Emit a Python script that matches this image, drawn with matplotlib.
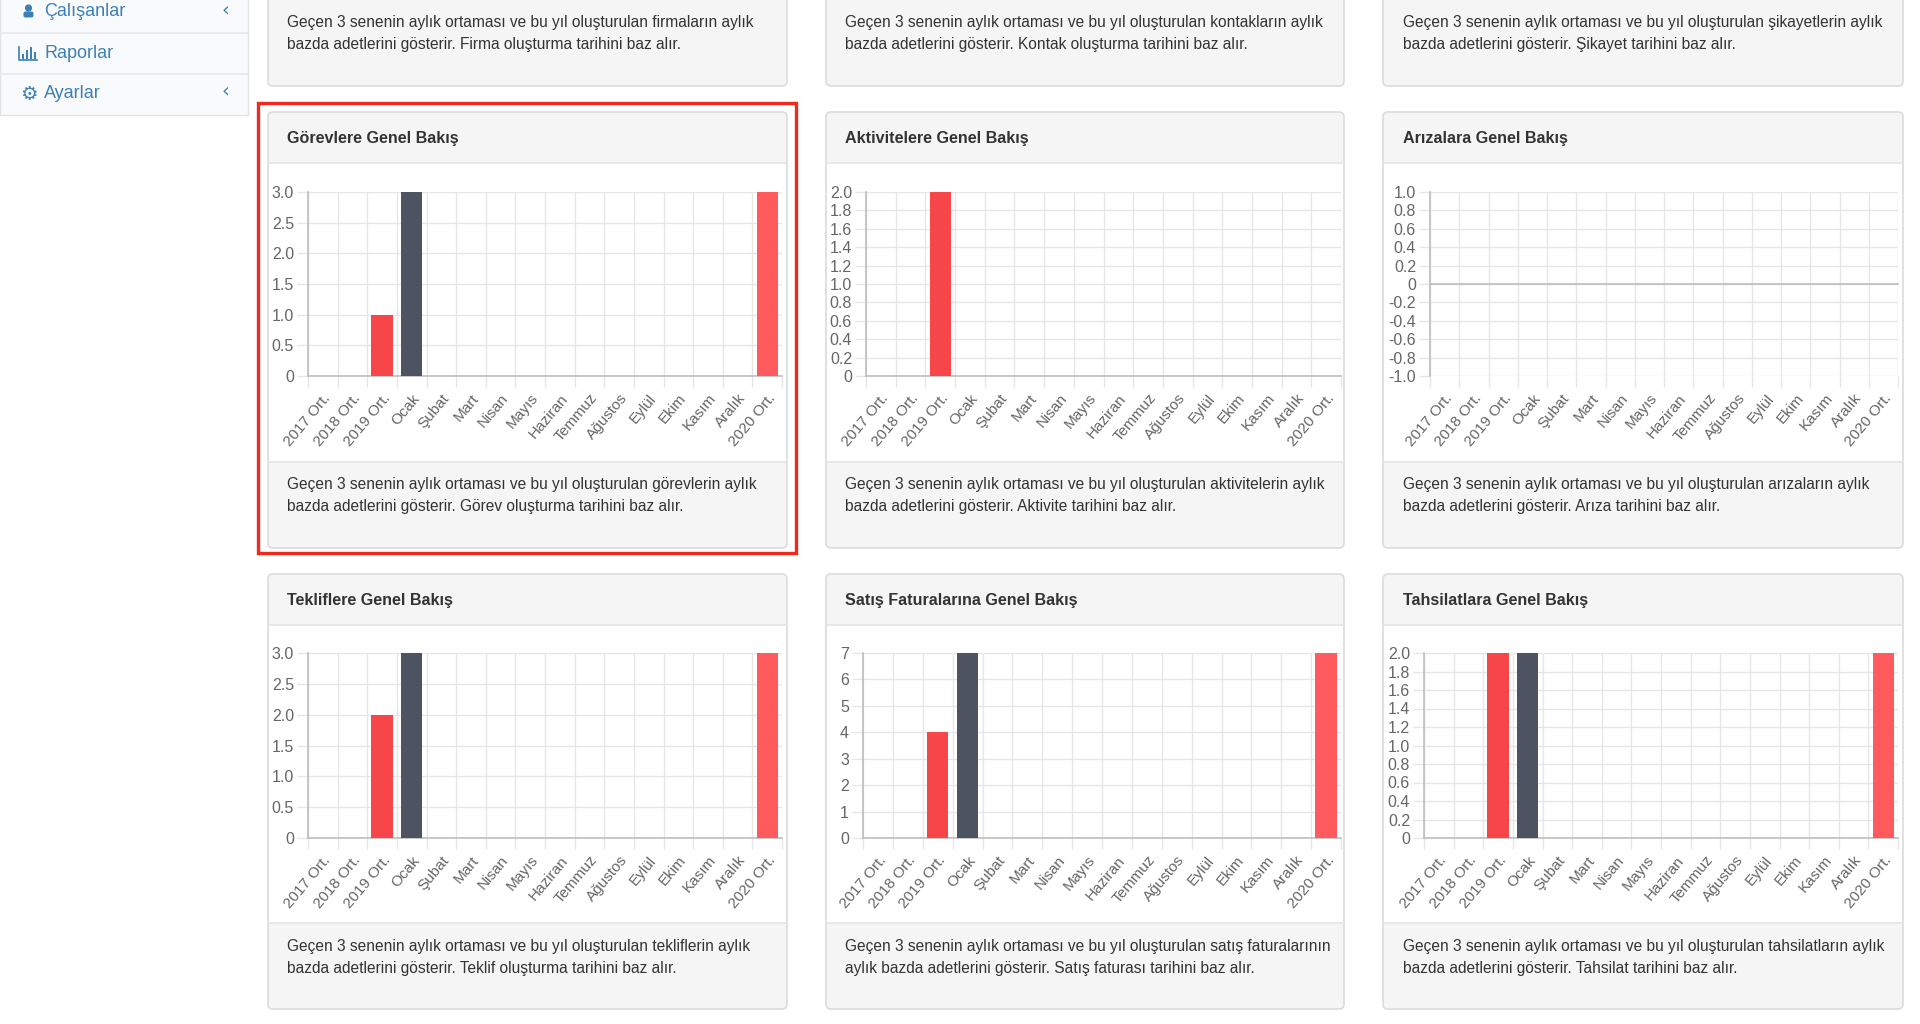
import matplotlib
matplotlib.use('Agg')
import matplotlib.pyplot as plt
from matplotlib.patches import FancyBboxPatch, Rectangle, Circle

plt.rcParams['font.family'] = ['Liberation Sans', 'DejaVu Sans']

W, H = 1920, 1024

# Data
categories = ['2017 Ort.', '2018 Ort.', '2019 Ort.', 'Ocak', 'Şubat', 'Mart', 'Nisan', 'Mayıs',
              'Haziran', 'Temmuz', 'Ağustos', 'Eylül', 'Ekim', 'Kasım', 'Aralık', '2020 Ort.']

gorev_values = [0, 0, 1, 3, 0, 0, 0, 0, 0, 0, 0, 0, 0, 0, 0, 3]
aktivite_values = [0, 0, 2, 0, 0, 0, 0, 0, 0, 0, 0, 0, 0, 0, 0, 0]
ariza_values = [0, 0, 0, 0, 0, 0, 0, 0, 0, 0, 0, 0, 0, 0, 0, 0]
teklif_values = [0, 0, 2, 3, 0, 0, 0, 0, 0, 0, 0, 0, 0, 0, 0, 3]
satis_values = [0, 0, 4, 7, 0, 0, 0, 0, 0, 0, 0, 0, 0, 0, 0, 7]
tahsilat_values = [0, 0, 2, 2, 0, 0, 0, 0, 0, 0, 0, 0, 0, 0, 0, 2]

ticks_half = ['0', '0.5', '1.0', '1.5', '2.0', '2.5', '3.0']
ticks_two = ['0', '0.2', '0.4', '0.6', '0.8', '1.0', '1.2', '1.4', '1.6', '1.8', '2.0']
ticks_neg = ['-1.0', '-0.8', '-0.6', '-0.4', '-0.2', '0', '0.2', '0.4', '0.6', '0.8', '1.0']
ticks_int = ['0', '1', '2', '3', '4', '5', '6', '7']

titles = ['Görevlere Genel Bakış', 'Aktivitelere Genel Bakış', 'Arızalara Genel Bakış',
          'Tekliflere Genel Bakış', 'Satış Faturalarına Genel Bakış', 'Tahsilatlara Genel Bakış']

footers = [
    ['Geçen 3 senenin aylık ortaması ve bu yıl oluşturulan görevlerin aylık',
     'bazda adetlerini gösterir. Görev oluşturma tarihini baz alır.'],
    ['Geçen 3 senenin aylık ortaması ve bu yıl oluşturulan aktivitelerin aylık',
     'bazda adetlerini gösterir. Aktivite tarihini baz alır.'],
    ['Geçen 3 senenin aylık ortaması ve bu yıl oluşturulan arızaların aylık',
     'bazda adetlerini gösterir. Arıza tarihini baz alır.'],
    ['Geçen 3 senenin aylık ortaması ve bu yıl oluşturulan tekliflerin aylık',
     'bazda adetlerini gösterir. Teklif oluşturma tarihini baz alır.'],
    ['Geçen 3 senenin aylık ortaması ve bu yıl oluşturulan satış faturalarının',
     'aylık bazda adetlerini gösterir. Satış faturası tarihini baz alır.'],
    ['Geçen 3 senenin aylık ortaması ve bu yıl oluşturulan tahsilatların aylık',
     'bazda adetlerini gösterir. Tahsilat tarihini baz alır.'],
]

top_footers = [
    ['Geçen 3 senenin aylık ortaması ve bu yıl oluşturulan firmaların aylık',
     'bazda adetlerini gösterir. Firma oluşturma tarihini baz alır.'],
    ['Geçen 3 senenin aylık ortaması ve bu yıl oluşturulan kontakların aylık',
     'bazda adetlerini gösterir. Kontak oluşturma tarihini baz alır.'],
    ['Geçen 3 senenin aylık ortaması ve bu yıl oluşturulan şikayetlerin aylık',
     'bazda adetlerini gösterir. Şikayet tarihini baz alır.'],
]

menu_items = ['Çalışanlar', 'Raporlar', 'Ayarlar']

all_values = [gorev_values, aktivite_values, ariza_values, teklif_values, satis_values, tahsilat_values]
all_ticks = [ticks_half, ticks_two, ticks_neg, ticks_half, ticks_int, ticks_two]

# Colors
bar_colors = ['#F7464A'] * 3 + ['#4D5360'] + ['#4D5360'] * 11 + ['#FF5A5E']
grid_color = '#e6e6e6'
card_bg = '#f5f5f5'
card_edge = '#dcdcdc'
link_color = '#3c80b4'
text_color = '#333333'

# Layout in pixels: card columns, rows, axes frames
card_x = [(268, 787), (826, 1344), (1383, 1903)]
text_x = [287, 845, 1403]
rows = [dict(top=112, head=163, foot=462, bottom=548, title=139, t1=485, t2=506),
        dict(top=574, head=625, foot=923, bottom=1009, title=600, t1=947, t2=968)]
axes_x = [(308, 782), (866, 1341), (1430, 1898), (308, 782), (863, 1341), (1424, 1898)]
axes_y = [(192, 376), (653, 838)]

fig = plt.figure(figsize=(W / 100, H / 100), dpi=100, facecolor='white')

# Background layer in pixel coordinates
bg = fig.add_axes([0, 0, 1, 1], zorder=0)
bg.set_xlim(0, W)
bg.set_ylim(H, 0)
bg.axis('off')


def card_box(x0, x1, y0, y1, color, edge=card_edge):
    box = FancyBboxPatch((x0 + 4, y0 + 4), x1 - x0 - 8, y1 - y0 - 8,
                         boxstyle='round,pad=4,rounding_size=5',
                         facecolor=color, edgecolor=edge, linewidth=1.2)
    bg.add_patch(box)


# Sidebar
bg.add_patch(Rectangle((0, -2), 248, 117, facecolor='#f9fafc', edgecolor='#e3e3e3', linewidth=1))
for sep_y in [33, 74]:
    bg.plot([0, 248], [sep_y, sep_y], color='#e6e7ea', linewidth=1.2)
for label, y in zip(menu_items, [12, 54, 94]):
    bg.text(44, y, label, color=link_color, fontsize=13, va='center', ha='left')
for y in [10, 91]:
    bg.text(225, y, '‹', color=link_color, fontsize=14, va='center', ha='center', family='DejaVu Sans')

# Sidebar icons
bg.add_patch(Circle((28.5, 8), 3.6, facecolor=link_color, edgecolor='none'))
bg.add_patch(FancyBboxPatch((25, 13), 7, 3, boxstyle='round,pad=1.5,rounding_size=2',
                            facecolor=link_color, edgecolor='none'))
bg.plot([19, 19, 37], [47, 60, 60], color=link_color, linewidth=1.2)
for bx, by in zip([22, 26, 30, 34], [54, 50, 47, 52]):
    bg.add_patch(Rectangle((bx, by), 2.2, 58.5 - by, facecolor=link_color, edgecolor='none'))
bg.text(28.5, 94, '⚙', color=link_color, fontsize=14, va='center', ha='center', family='DejaVu Sans')

# Top row, only the bottom of the cards is visible
for (x0, x1), tx, lines in zip(card_x, text_x, top_footers):
    card_box(x0, x1, -20, 86, card_bg)
    bg.text(tx, 23, lines[0], fontsize=11.2, color=text_color, va='center')
    bg.text(tx, 44, lines[1], fontsize=11.2, color=text_color, va='center')

# Chart cards
for i in range(6):
    row = rows[i // 3]
    x0, x1 = card_x[i % 3]
    tx = text_x[i % 3]
    card_box(x0, x1, row['top'], row['bottom'], card_bg)
    bg.add_patch(Rectangle((x0 + 1, row['head']), x1 - x0 - 2, row['foot'] - row['head'],
                           facecolor='white', edgecolor='none'))
    bg.plot([x0, x1], [row['head'], row['head']], color='#e4e4e4', linewidth=1.2)
    bg.plot([x0, x1], [row['foot'], row['foot']], color='#e4e4e4', linewidth=1.2)
    bg.text(tx, row['title'], titles[i], fontsize=11.6, fontweight='bold', color=text_color, va='center')
    bg.text(tx, row['t1'], footers[i][0], fontsize=11.2, color=text_color, va='center')
    bg.text(tx, row['t2'], footers[i][1], fontsize=11.2, color=text_color, va='center')

# Red highlight frame around the first chart
bg.add_patch(Rectangle((258, 103), 538, 450, facecolor='none', edgecolor='#f0281e', linewidth=2.4))

# Charts
for i in range(6):
    left, right = axes_x[i]
    top, bottom = axes_y[i // 3]
    ax = fig.add_axes([left / W, 1 - bottom / H, (right - left) / W, (bottom - top) / H], zorder=2)
    ax.patch.set_alpha(0)

    tick_labels = all_ticks[i]
    tick_values = [float(t) for t in tick_labels]

    positions = list(range(len(categories)))
    ax.bar(positions, all_values[i], width=0.72, color=bar_colors, zorder=3)

    ax.set_xlim(-0.5, len(categories) - 0.5)
    ax.set_ylim(tick_values[0], tick_values[-1])

    # Gridlines sit between the categories, labels in the middle
    ax.set_xticks(positions)
    ax.set_xticklabels(categories, rotation=50, ha='right', va='top', rotation_mode='anchor',
                       fontsize=11, color='#666666')
    ax.set_xticks([p - 0.5 for p in positions] + [len(categories) - 0.5], minor=True)
    ax.tick_params(axis='x', which='major', length=0, pad=11)
    ax.tick_params(axis='x', which='minor', length=8, color=grid_color, width=1)
    ax.set_yticks(tick_values)
    ax.set_yticklabels(tick_labels, fontsize=11.5, color='#666666')
    ax.tick_params(axis='y', length=8, color=grid_color, width=1, pad=2)

    ax.grid(True, axis='x', which='minor', color=grid_color, linewidth=1, zorder=0)
    ax.grid(True, axis='y', which='major', color=grid_color, linewidth=1, zorder=0)
    ax.grid(False, axis='x', which='major')
    ax.axhline(0, color='#bdbdbd', linewidth=1.2, zorder=2, clip_on=False)

    for side in ['top', 'right', 'bottom']:
        ax.spines[side].set_visible(False)
    ax.spines['left'].set_color('#bdbdbd')
    ax.spines['left'].set_linewidth(1.2)

plt.savefig('out.png', dpi=100)
